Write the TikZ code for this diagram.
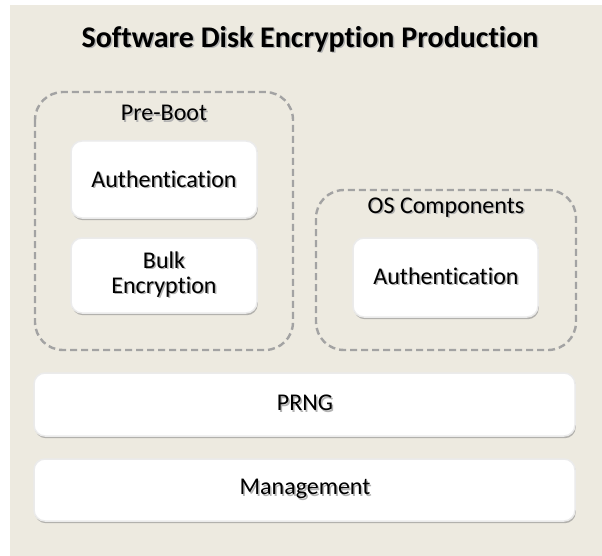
\documentclass[tikz,border=0pt]{standalone}
\usepackage{fontspec}
\setmainfont[Ligatures=NoCommon]{Carlito}
\usetikzlibrary{shadows}
\definecolor{bg}{HTML}{EDEAE0}
\definecolor{dashc}{HTML}{A3A3A3}
\newcommand\shd[1]{\makebox[0pt][l]{\raisebox{-1.5pt}{\hspace{1.5pt}\textcolor{black!30}{#1}}}#1}
\tikzset{
  whitebox/.style={draw=black!8, line width=1.5pt, fill=white, rounded corners=11pt,
    drop shadow={shadow xshift=0.8pt, shadow yshift=-2.2pt, fill=black!45, opacity=0.6}},
  groupbox/.style={draw=dashc, line width=2.4pt, dash pattern=on 7pt off 4pt, rounded corners=28pt},
  lbl/.style={font=\fontsize{24}{25}\selectfont, text=black, align=center, inner sep=0pt},
}
\begin{document}
\begin{tikzpicture}[x=1pt,y=-1pt]
\useasboundingbox (0,0) rectangle (602,556);
\fill[white] (0,0) rectangle (602,556);
\fill[bg] (10,5) rectangle (602,556);
\node[font=\bfseries\fontsize{30}{34}\selectfont, inner sep=0pt] (title) at (310,40) {\shd{Software Disk Encryption Production}};
% Pre-Boot group
\draw[groupbox] (35,92) rectangle (293,350);
\node[lbl] (pre) at (164,114) {\shd{Pre-Boot}};
\draw[whitebox] (71,141) rectangle (257,218);
\node[lbl] (auth1) at (164,180) {\shd{Authentication}};
\draw[whitebox] (71,238) rectangle (257,313);
\node[lbl] (bulk) at (164,275) {\shd{Bulk}\\\shd{Encryption}};
% OS group
\draw[groupbox] (316,190) rectangle (576,350);
\node[lbl] (os) at (446,208) {\shd{OS Components}};
\draw[whitebox] (353,238) rectangle (538,317);
\node[lbl] (auth2) at (446,277) {\shd{Authentication}};
% Bars
\draw[whitebox] (34,373) rectangle (575,436);
\node[lbl] (prng) at (305,404) {\shd{PRNG}};
\draw[whitebox] (34,459) rectangle (575,521);
\node[lbl] (mgmt) at (305,490) {\shd{Management}};
\end{tikzpicture}
\end{document}
